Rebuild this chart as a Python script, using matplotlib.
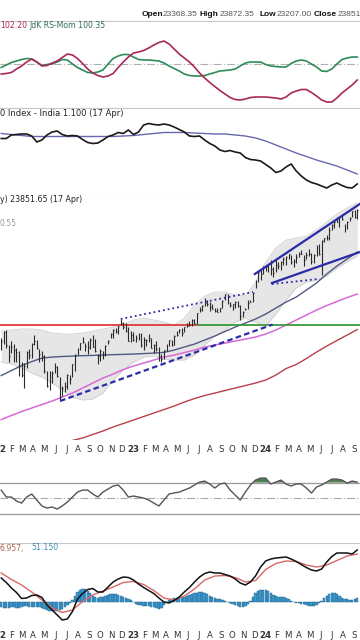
import matplotlib
matplotlib.use("Agg")
import matplotlib.pyplot as plt
import matplotlib.dates as mdates
from matplotlib.ticker import NullLocator
import numpy as np
import pandas as pd

# ---------------- data ----------------
weeks = pd.date_range("2022-01-03", periods=141, freq="7D")   # weekly bars (Nifty 50)

close = [17812, 18256, 17617, 17102, 17516, 17374, 17276, 16658, 16245, 16630, 17287, 17153, 17670,
         17784, 17476, 17172, 17102, 16411, 15782, 16266, 16352, 16584, 16202, 15293, 15699, 15752,
         16221, 16049, 16719, 17158, 17398, 17698, 17758, 17559, 17539, 17833, 17531, 17327, 17094,
         17315, 17186, 17576, 17787, 18117, 18350, 18308, 18512, 18696, 18497, 18269, 17807, 18105,
         17859, 17957, 18027, 17604, 17854, 17856, 17944, 17466, 17594, 17413, 17100, 16945, 17360,
         17600, 17828, 17624, 18065, 18069, 18315, 18203, 18499, 18534, 18563, 18826, 18665, 19189,
         19332, 19564, 19745, 19646, 19517, 19428, 19310, 19265, 19435, 19820, 20192, 19674, 19638,
         19654, 19751, 19542, 19047, 19230, 19425, 19732, 19795, 20268, 20969, 21457, 21349, 21731,
         21711, 21895, 21622, 21353, 21854, 21783, 22041, 22213, 22339, 22494, 22023, 22097, 22327,
         22514, 22519, 22147, 22420, 22476, 22055, 22467, 22957, 22531, 23290, 23466, 23501, 24011,
         24324, 24502, 24531, 24835, 24718, 24367, 24541, 24823, 25236, 24852, 25357]
high = [17944, 18286, 18351, 17599, 17794, 17640, 17491, 17351, 16815, 16757, 17344, 17429, 17703,
        18114, 17842, 17414, 17322, 17132, 16404, 16400, 16415, 16793, 16636, 16172, 15749, 15927,
        16275, 16248, 16752, 17172, 17490, 17719, 17992, 17726, 17778, 17925, 18096, 17919, 17188,
        17429, 17348, 17607, 17838, 18176, 18363, 18443, 18534, 18888, 18728, 18697, 18473, 18265,
        18252, 18103, 18183, 18201, 17972, 17916, 18134, 17954, 17645, 17800, 17529, 17207, 17381,
        17638, 17842, 17863, 18089, 18267, 18389, 18459, 18508, 18662, 18777, 18864, 18887, 19201,
        19524, 19595, 19991, 19867, 19795, 19646, 19465, 19472, 19458, 19867, 20222, 20195, 19766,
        19674, 19843, 19850, 19593, 19276, 19463, 19875, 19875, 20291, 21006, 21492, 21593, 21801,
        21834, 21929, 22124, 21750, 22127, 22053, 22069, 22297, 22353, 22526, 22447, 22180, 22516,
        22619, 22775, 22427, 22625, 22795, 22588, 22502, 23027, 23111, 23338, 23490, 23667, 24175,
        24401, 24592, 24854, 24861, 25078, 24382, 24563, 24868, 25268, 25334, 25434]
low = [17383, 17655, 17486, 16837, 17244, 16836, 16810, 16203, 16134, 15671, 16556, 16978, 17006,
       17624, 17442, 16824, 16888, 16341, 15736, 15601, 15913, 16347, 16172, 15183, 15368, 15511,
       15661, 15858, 16143, 16438, 17154, 17359, 17710, 17345, 17166, 17429, 17497, 17291, 16748,
       16855, 16950, 17098, 17637, 17959, 17969, 18209, 18134, 18562, 18410, 18255, 17779, 17775,
       17796, 17761, 17853, 17494, 17353, 17584, 17761, 17455, 17255, 17324, 16850, 16828, 16940,
       17312, 17574, 17553, 17612, 18042, 18200, 18060, 18228, 18464, 18550, 18558, 18646, 18647,
       19248, 19300, 19563, 19563, 19296, 19412, 19257, 19229, 19224, 19436, 19865, 19657, 19492,
       19333, 19481, 19518, 18837, 18974, 19329, 19414, 19768, 19768, 20507, 20868, 20977, 21329,
       21500, 21449, 21285, 21137, 21429, 21629, 21530, 21875, 21860, 22225, 21905, 21710, 21947,
       22304, 22503, 21777, 22179, 22410, 21932, 21968, 22404, 22417, 21281, 23245, 23350, 23350,
       23992, 24141, 24508, 24210, 24686, 23894, 24098, 24567, 24859, 24801, 24754]

# moving averages / bands (every 4th week)
ma_mid = [16219, 16439, 16660, 16840, 17000, 17046, 17073, 17092, 17110, 17124, 17139, 17157, 17171,
          17184, 17208, 17231, 17263, 17372, 17514, 17655, 17846, 18040, 18262, 18484, 18684, 18887,
          19141, 19453, 19770, 20038, 20421, 20810, 21322, 21786, 22200, 22622]
ma_long = [14406, 14562, 14720, 14860, 15001, 15142, 15306, 15471, 15682, 15894, 16109, 16284, 16483,
           16639, 16773, 16909, 17046, 17139, 17255, 17372, 17514, 17608, 17702, 17798, 17895, 17992,
           18138, 18335, 18583, 18835, 19091, 19350, 19586, 19798, 20011, 20201]
ma_200 = [np.nan] * 6 + [13505, 13615, 13707, 13837, 13968, 14119, 14252, 14387, 14523, 14661, 14799,
                         14940, 15101, 15244, 15368, 15471, 15577, 15682, 15787, 15894, 16023, 16240,
                         16527, 16706, 16978, 17278, 17559, 17822, 18089, 18358]
bb_upper = [18286, 18335, 18384, 18384, 18335, 18188, 18138, 18138, 18188, 18286, 18384, 18484, 18633,
            18835, 18937, 18835, 18733, 18583, 18937, 19612, 20094, 20312, 20312, 20148, 20094, 20866,
            22021, 22869, 23367, 23494, 23620, 24006, 24529, 25064, 25474, 25818]
bb_lower = [16817, 16727, 16549, 16328, 16153, 15893, 15597, 15306, 15183, 15224, 15472, 16023, 16461,
            16817, 17046, 17093, 16955, 16909, 16909, 17139, 17608, 18040, 18335, 18733, 18937, 18733,
            18533, 19141, 19878, 20532, 20866, 20979, 21207, 21669, 22021, 22381]

level = 18604
level_switch = "2023-06-26"
tl_upper = (["2023-12-02", "2024-09-16"], [21322, 25748])
tl_lower = (["2024-01-18", "2024-09-16"], [20810, 22622])
tl_dot1 = (["2022-11-28", "2023-11-27"], [18888, 20312])
tl_dot2 = (["2024-01-18", "2024-05-24"], [20754, 21036])
tl_dash = (["2022-06-14", "2024-01-20"], [15142, 18608])

# JdK RS-Ratio / RS-Momentum (every 2nd week)
rs_ratio = [99.0, 99.05, 99.15, 99.5, 99.8, 100.2, 100.5, 100.2, 99.8, 99.85, 100.1, 100.3, 100.65,
            101.0, 100.9, 100.55, 100.05, 99.5, 99.1, 98.85, 98.7, 98.8, 99.05, 99.65, 100.2, 100.7,
            101.1, 101.2, 101.35, 101.6, 101.9, 102.15, 102.3, 102.0, 101.5, 101.0, 100.6, 100.2, 99.7,
            99.1, 98.6, 98.15, 97.75, 97.35, 97.0, 96.65, 96.45, 96.4, 96.5, 96.65, 96.7, 96.7, 96.7,
            96.65, 96.6, 96.5, 96.7, 97.1, 97.3, 97.45, 97.45, 97.15, 96.8, 96.4, 96.2, 96.2, 96.6,
            97.1, 97.5, 97.9, 98.4]
rs_mom = [99.65, 99.9, 100.15, 100.3, 100.45, 100.55, 100.5, 100.2, 99.85, 99.95, 100.0, 100.2, 100.45,
          100.4, 100.0, 99.65, 99.4, 99.15, 99.1, 99.2, 99.4, 100.0, 100.55, 100.8, 100.95, 100.95,
          100.7, 100.45, 100.4, 100.4, 100.35, 100.3, 100.1, 99.8, 99.55, 99.3, 99.0, 98.85, 98.8,
          98.8, 98.85, 99.0, 99.15, 99.3, 99.35, 99.4, 99.5, 99.8, 100.1, 100.2, 100.2, 100.2, 99.95,
          99.8, 99.75, 99.7, 99.7, 100.05, 100.3, 100.4, 100.3, 100.0, 99.7, 99.3, 99.25, 99.5, 100.0,
          100.45, 100.6, 100.7, 100.7]

# relative strength vs index (every 2nd week) and its average (every 4th week)
rel = [1.323, 1.323, 1.330, 1.331, 1.332, 1.332, 1.328, 1.316, 1.320, 1.330, 1.336, 1.338, 1.331,
       1.328, 1.329, 1.328, 1.321, 1.315, 1.313, 1.314, 1.320, 1.327, 1.330, 1.335, 1.333, 1.340,
       1.331, 1.336, 1.350, 1.353, 1.351, 1.350, 1.352, 1.350, 1.346, 1.341, 1.336, 1.328, 1.327,
       1.328, 1.320, 1.313, 1.308, 1.300, 1.297, 1.299, 1.296, 1.294, 1.285, 1.281, 1.280, 1.278,
       1.271, 1.264, 1.255, 1.258, 1.266, 1.272, 1.258, 1.248, 1.240, 1.235, 1.232, 1.228, 1.224,
       1.230, 1.234, 1.229, 1.225, 1.224, 1.232]
rel_ma = [1.333, 1.331, 1.329, 1.327, 1.327, 1.327, 1.327, 1.327, 1.327, 1.327, 1.327, 1.327, 1.328,
          1.329, 1.331, 1.333, 1.335, 1.335, 1.335, 1.334, 1.333, 1.332, 1.332, 1.330, 1.328, 1.324,
          1.318, 1.310, 1.302, 1.294, 1.287, 1.280, 1.274, 1.268, 1.260, 1.252]

# RSI (every 2nd week)
rsi = [60.3, 51.3, 51.3, 46.1, 43.5, 51.3, 55.2, 47.4, 39.7, 37.1, 38.4, 35.8, 39.7, 44.8, 51.3, 57.7,
       60.3, 60.3, 55.2, 51.3, 57.7, 61.6, 65.5, 66.8, 60.3, 51.3, 52.6, 51.3, 50.0, 47.4, 43.5, 39.7,
       47.4, 55.2, 56.5, 57.7, 60.3, 62.9, 66.8, 70.6, 71.9, 68.1, 62.9, 68.1, 69.4, 60.3, 53.9, 47.4,
       57.7, 66.8, 73.2, 75.8, 75.8, 68.1, 70.6, 73.2, 68.1, 65.5, 68.1, 68.1, 62.9, 56.5, 64.2, 66.8,
       70.6, 74.5, 74.5, 73.2, 69.4, 71.9, 70.6]

# MACD (every 2nd week), signal (every 4th week), histogram (weekly)
macd = [240, 195, 140, 95, 35, 40, 65, 70, 45, -30, -80, -130, -180, -170, -95, 30, 85, 125, 135, 100,
        100, 150, 200, 230, 250, 245, 220, 180, 145, 115, 85, 40, 0, -10, 15, 50, 100, 145, 200, 250,
        285, 300, 290, 290, 275, 260, 230, 190, 170, 200, 260, 350, 410, 430, 440, 445, 450, 430, 405,
        375, 345, 320, 310, 330, 400, 455, 490, 490, 490, 480, 520]
signal = [290, 225, 170, 100, 20, -60, -105, -80, 5, 70, 110, 150, 195, 205, 175, 115, 40, 20, 60, 130,
          220, 260, 265, 245, 200, 215, 325, 385, 410, 405, 370, 350, 370, 415, 460, 480]
hist = [-50, -60, -60, -60, -50, -50, -60, -60, -50, -40, -40, -50, -50, -50, -50, -50, -60, -70, -80,
        -90, -90, -90, -90, -80, -70, -50, -30, -10, 20, 60, 100, 120, 130, 130, 110, 90, 60, 50, 40,
        50, 50, 60, 70, 80, 80, 80, 70, 60, 50, 40, 30, 20, 0, -20, -30, -30, -40, -40, -40, -50, -50,
        -60, -70, -60, -30, 0, 20, 30, 40, 40, 40, 50, 50, 60, 70, 80, 90, 90, 100, 100, 90, 80, 60,
        50, 40, 30, 30, 20, 10, 0, -10, -20, -30, -40, -50, -50, -40, -20, 10, 50, 90, 110, 120, 120,
        120, 110, 90, 70, 60, 50, 50, 50, 40, 30, 10, 0, -10, -10, -20, -20, -30, -40, -40, -40, -30,
        -10, 10, 40, 60, 80, 90, 90, 80, 60, 40, 30, 30, 20, 20, 30, 40]

month_starts = pd.date_range("2022-01-01", "2024-09-01", freq="MS")

# ---------------- drawing ----------------
H = 640.0
fig = plt.figure(figsize=(3.6, 6.4), dpi=100)
fig.patch.set_facecolor("white")

t0 = mdates.date2num(pd.Timestamp("2022-01-01"))
XL = (t0 - 1.38, t0 + 989.6)
wn = mdates.date2num(weeks)
w2 = wn[::2]
w4 = wn[::4]
GRID = "#c8c8c8"
ARIAL = "Liberation Sans"


def panel(top, bot, top_line=True, bottom_line=True):
    ax = fig.add_axes([0, 1 - bot / H, 1, (bot - top) / H])
    ax.set_xlim(*XL)
    for s in ("left", "right"):
        ax.spines[s].set_visible(False)
    for s, vis in (("top", top_line), ("bottom", bottom_line)):
        ax.spines[s].set_color(GRID)
        ax.spines[s].set_linewidth(0.8)
        ax.spines[s].set_visible(vis)
    ax.yaxis.set_major_locator(NullLocator())
    ax.yaxis.set_minor_locator(NullLocator())
    ax.xaxis.set_minor_locator(NullLocator())
    ax.set_xticks([])
    return ax


def month_axis(ax):
    pos = mdates.date2num(month_starts)
    labs = [(f"{d.year % 100}" if d.month == 1 else d.strftime("%b")[0]) for d in month_starts]
    ax.set_xticks(pos)
    ax.set_xticklabels(labs, fontsize=6.2, color="#333333")
    for d, t in zip(month_starts, ax.get_xticklabels()):
        if d.month == 1:
            t.set_fontweight("bold")
    ax.tick_params(axis="x", length=0, pad=3.5)


# header
hdr = [(142, "Open", True), (163, "23368.35", False), (200, "High", True), (220, "23872.35", False),
       (259, "Low", True), (277, "23207.00", False), (314, "Close", True), (338, "23851.65", False)]
for x, s, b in hdr:
    fig.text(x / 360, 1 - 15 / H, s, fontsize=6.0, family=ARIAL, fontweight="bold" if b else "normal",
             color="#111111" if b else "#555555", va="center", ha="left")

# panel 1: RS-Ratio / RS-Momentum
ax1 = panel(21, 108)
ax1.set_ylim(95.6, 104.3)
ax1.axhline(100, color="#b0b0b0", lw=0.8, ls=(0, (7, 2, 1, 2)))
ax1.plot(w2, rs_mom, color="#2e8b57", lw=1.2)
ax1.plot(w2, rs_ratio, color="#a8285a", lw=1.2)
ax1.text(0, 1 - 4 / 87, "102.20", transform=ax1.transAxes, fontsize=5.6, color="#a8285a", va="center")
ax1.text(29 / 360, 1 - 4 / 87, "JdK RS-Mom 100.35", transform=ax1.transAxes, fontsize=5.6,
         color="#2e7050", va="center")

# panel 2: relative strength line
ax2 = panel(108, 195)
ax2.set_ylim(1.21, 1.384)
ax2.plot(w4, rel_ma, color="#6868b0", lw=1.0)
ax2.plot(w2, rel, color="#1a1a1a", lw=1.2)
ax2.text(0, 1 - 5 / 87, "0 Index - India 1.100 (17 Apr)", transform=ax2.transAxes, fontsize=6,
         color="#222222", va="center")

# panel 3: price
ax3 = panel(195, 440, top_line=False, bottom_line=False)
ax3.set_yscale("log")
ax3.set_ylim(13633, 26381)
ax3.yaxis.set_major_locator(NullLocator())
ax3.yaxis.set_minor_locator(NullLocator())
ax3.fill_between(w4, bb_lower, bb_upper, color="#e6e6e6", lw=0)
ax3.plot(w4, bb_upper, color="#cfcfcf", lw=0.6)
ax3.plot(w4, bb_lower, color="#cfcfcf", lw=0.6)
ax3.plot(w4, ma_200, color="#b8404a", lw=1.0)
ax3.plot(w4, ma_long, color="#d86ad8", lw=1.1)
ax3.plot(w4, ma_mid, color="#505a80", lw=1.0)
sw = mdates.date2num(pd.Timestamp(level_switch))
ax3.hlines(level, XL[0], sw, color="#e03a3a", lw=1.3)
ax3.hlines(level, sw, XL[1], color="#3a9a3a", lw=1.3)
ax3.vlines(wn, low, high, color="#2a2a2a", lw=0.8)
ax3.hlines(close, wn, wn + 2.6, color="#2a2a2a", lw=0.8)
TL = "#2b2ba8"
for tl, st, lw in [(tl_upper, "-", 1.6), (tl_lower, "-", 1.6), (tl_dot1, ":", 1.3),
                   (tl_dot2, ":", 1.3), (tl_dash, (0, (2.5, 1.5)), 1.6)]:
    ax3.plot(mdates.date2num(pd.to_datetime(tl[0])), tl[1], color=TL, lw=lw, ls=st)
ax3.text(0, 1 - 5 / 245, "y) 23851.65 (17 Apr)", transform=ax3.transAxes, fontsize=5.7,
         color="#222222", va="center")
ax3.text(0, 1 - 29 / 245, "0.55", transform=ax3.transAxes, fontsize=5.5, color="#999999", va="center")
month_axis(ax3)

# panel 4: RSI
ax4 = panel(457, 540, top_line=False, bottom_line=False)
ax4.set_ylim(-4.2, 103.0)
ax4.axhline(70, color="#9a9a9a", lw=0.9)
ax4.axhline(30, color="#9a9a9a", lw=0.9)
ax4.axhline(50, color="#a8a8a8", lw=0.8, ls=(0, (7, 2, 1, 2)))
r = np.array(rsi)
ax4.fill_between(w2, 70, r, where=r > 70, interpolate=True, color="#4f7f55", lw=0)
ax4.plot(w2, rsi, color="#555555", lw=1.0)

# panel 5: MACD
ax5 = panel(543, 626, bottom_line=False)
ax5.set_ylim(-240, 590)
ax5.bar(wn, hist, width=6.5, color="#3f9ad0", edgecolor="#1f5c85", lw=0.3)
ax5.plot(w4, signal, color="#d86868", lw=1.0)
ax5.plot(w2, macd, color="#111111", lw=1.1)
ax5.text(0, 1 - 5 / 83, "6.957,", transform=ax5.transAxes, fontsize=5.6, color="#b06050", va="center")
ax5.text(31 / 360, 1 - 5 / 83, "51.150", transform=ax5.transAxes, fontsize=5.6, color="#3a8ab0",
         va="center")
month_axis(ax5)

fig.savefig("out.png", dpi=100, facecolor="white")
